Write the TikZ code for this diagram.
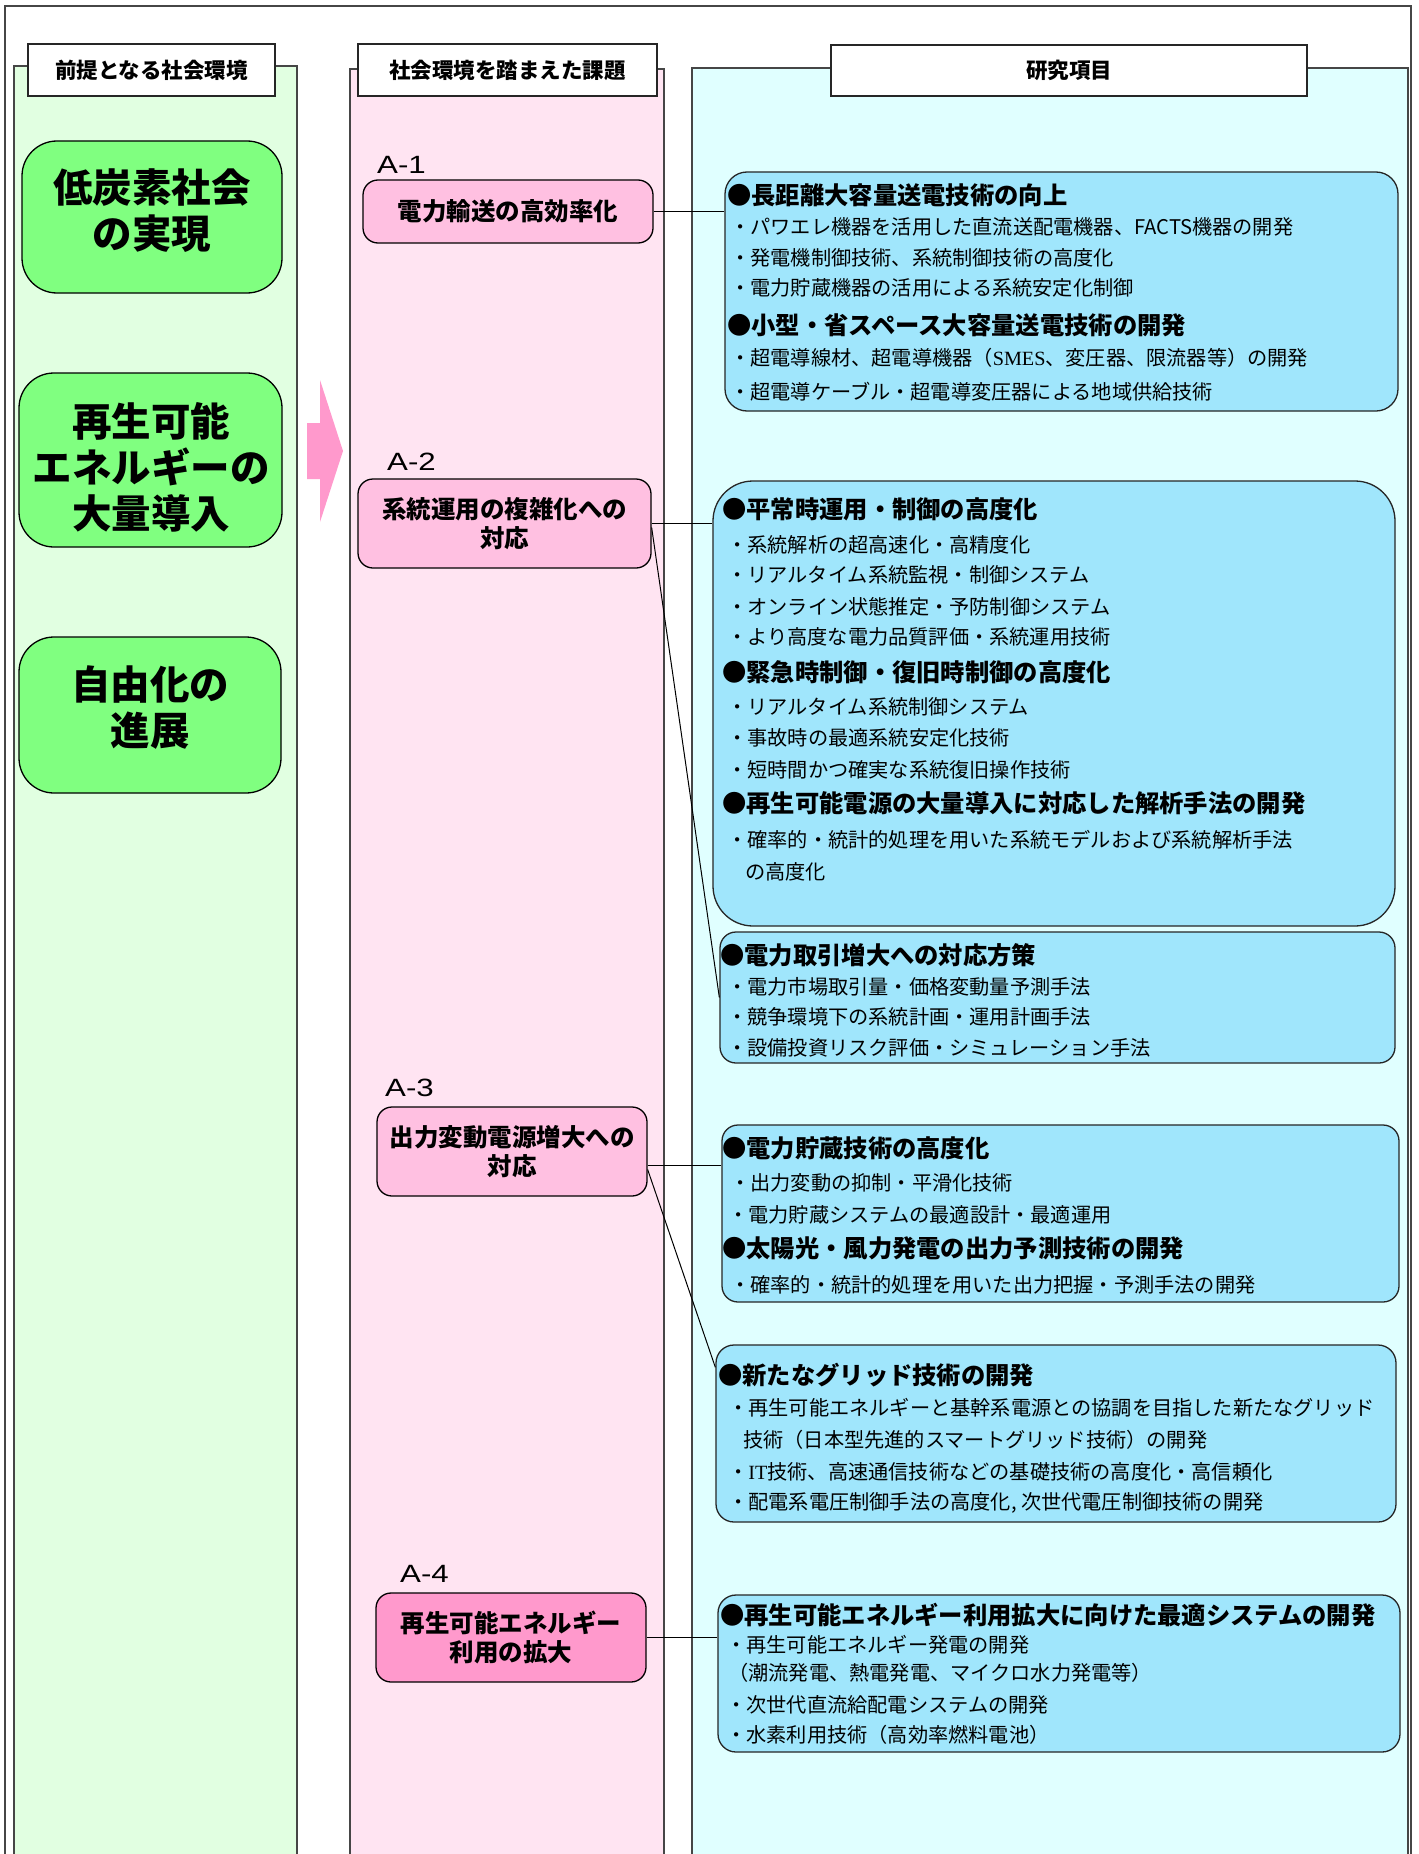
\documentclass[tikz,border=0pt]{standalone}
\usepackage{fontspec}
\setmainfont{Noto Sans CJK JP}
\newfontfamily\alab[FakeStretch=1.25]{Liberation Sans}
\newfontfamily\sertxt{Liberation Serif}
\usetikzlibrary{fit}
\definecolor{greenpanel}{RGB}{225,255,225}
\definecolor{greenbox}{RGB}{128,255,128}
\definecolor{pinkpanel}{RGB}{255,228,242}
\definecolor{pinkbox}{RGB}{255,192,225}
\definecolor{pinkbox4}{RGB}{255,153,204}
\definecolor{arrowpink}{RGB}{255,153,204}
\definecolor{bluepanel}{RGB}{224,255,255}
\definecolor{bluebox}{RGB}{160,230,252}
\definecolor{framegray}{RGB}{70,70,70}
\tikzset{
  frame/.style={draw=framegray, line width=1.5pt},
  panel/.style={draw=framegray, line width=1.5pt},
  hdr/.style={draw=black!85, fill=white, line width=1.3pt, inner sep=0pt,
    font=\bfseries\fontsize{21.5}{21.5}\selectfont},
  gbox/.style={draw=black, fill=greenbox, rounded corners=35pt, line width=1.3pt, inner sep=0pt},
  gtext/.style={inner sep=0pt, align=center, font=\bfseries\fontsize{39.5}{46}\selectfont},
  abox/.style={draw=black, fill=pinkbox, rounded corners=15pt, line width=1.3pt, inner sep=0pt,
    align=center, font=\bfseries\fontsize{24.5}{29}\selectfont},
  bbox/.style={draw=black!85, fill=bluebox, line width=1.3pt, inner sep=0pt},
  alabel/.style={anchor=west, inner sep=0pt, font=\alab\fontsize{25}{25}\selectfont},
  ttl/.style={anchor=west, inner sep=0pt, font=\bfseries\fontsize{24.3}{24.3}\selectfont},
  itm/.style={anchor=west, inner sep=0pt, font=\fontsize{20.2}{20.2}\selectfont},
  conn/.style={draw=black, line width=1pt},
}
\begin{document}
\begin{tikzpicture}[x=1pt,y=-1pt]
\useasboundingbox (0,0) rectangle (1418,1854);
\clip (0,0) rectangle (1418,1854);
\fill[white] (0,0) rectangle (1418,1854);
% outer frame
\draw[frame] (5,1870) -- (5,6) -- (1411,6) -- (1411,1870);
% panels
\filldraw[panel, fill=greenpanel] (14,1870) -- (14,66) -- (297,66) -- (297,1870);
\filldraw[panel, fill=pinkpanel] (350,1870) -- (350,69) -- (664,69) -- (664,1870);
\filldraw[panel, fill=bluepanel] (692,1870) -- (692,68) -- (1408,68) -- (1408,1870);
% headers
\node[hdr, minimum width=247pt, minimum height=52pt] (h1) at (151.5,70) {前提となる社会環境};
\node[hdr, minimum width=299pt, minimum height=52pt] (h2) at (507.5,70) {社会環境を踏まえた課題};
\node[hdr, minimum width=476pt, minimum height=51pt] (h3) at (1069,70.5) {研究項目};
% arrow
\fill[arrowpink] (307,423) -- (320,423) -- (320,380) -- (343,451) -- (320,522) -- (320,479) -- (307,479) -- cycle;
% green boxes
\node[gbox, minimum width=260pt, minimum height=152pt] (g1) at (152,217) {};
\node[gbox, minimum width=263pt, minimum height=174pt] (g2) at (150.5,460) {};
\node[gbox, minimum width=262pt, minimum height=156pt] (g3) at (150,715) {};
\node[gtext] (gt1) at (152,211) {低炭素社会\\の実現};
\node[gtext] (gt2) at (151,467) {再生可能\\エネルギーの\\大量導入};
\node[gtext] (gt3) at (150,708) {自由化の\\進展};
% A labels and boxes
\node[alabel] (la1) at (377,165) {A-1};
\node[alabel] (la2) at (387,462) {A-2};
\node[alabel] (la3) at (385,1088) {A-3};
\node[alabel] (la4) at (400,1574) {A-4};
\node[abox, minimum width=290pt, minimum height=63pt] (a1) at (508,211.5) {電力輸送の高効率化};
\node[abox, minimum width=293pt, minimum height=89pt] (a2) at (504.5,523.5) {系統運用の複雑化への\\対応};
\node[abox, minimum width=270pt, minimum height=89pt] (a3) at (512,1151.5) {出力変動電源増大への\\対応};
\node[abox, fill=pinkbox4, minimum width=270pt, minimum height=89pt] (a4) at (511,1637.5) {再生可能エネルギー\\利用の拡大};
% blue boxes
\node[bbox, rounded corners=22pt, fit={(725,172) (1398,411)}] (bx1) {};
\node[bbox, rounded corners=40pt, fit={(713,481) (1395,926)}] (bx2) {};
\node[bbox, rounded corners=16pt, fit={(720,932) (1395,1063)}] (bx3) {};
\node[bbox, rounded corners=16pt, fit={(722,1125) (1399,1302)}] (bx4) {};
\node[bbox, rounded corners=18pt, fit={(716,1345) (1396,1522)}] (bx5) {};
\node[bbox, rounded corners=18pt, fit={(718,1595) (1400,1752)}] (bx6) {};
% box 1 text
\node[ttl] (t11) at (727,195) {●長距離大容量送電技術の向上};
\node[itm] (i11) at (730,227) {・パワエレ機器を活用した直流送配電機器、FACTS機器の開発};
\node[itm] (i12) at (730,258) {・発電機制御技術、系統制御技術の高度化};
\node[itm] (i13) at (730,288) {・電力貯蔵機器の活用による系統安定化制御};
\node[ttl] (t12) at (727,325) {●小型・省スペース大容量送電技術の開発};
\node[itm] (i14) at (730,358) {・超電導線材、超電導機器（{\sertxt SMES}、変圧器、限流器等）の開発};
\node[itm] (i15) at (730,392) {・超電導ケーブル・超電導変圧器による地域供給技術};
% box 2 text
\node[ttl] (t21) at (722,509) {●平常時運用・制御の高度化};
\node[itm] (i21) at (727,545) {・系統解析の超高速化・高精度化};
\node[itm] (i22) at (727,575) {・リアルタイム系統監視・制御システム};
\node[itm] (i23) at (727,607) {・オンライン状態推定・予防制御システム};
\node[itm] (i24) at (727,637) {・より高度な電力品質評価・系統運用技術};
\node[ttl] (t22) at (722,672) {●緊急時制御・復旧時制御の高度化};
\node[itm] (i25) at (727,707) {・リアルタイム系統制御システム};
\node[itm] (i26) at (727,738) {・事故時の最適系統安定化技術};
\node[itm] (i27) at (727,770) {・短時間かつ確実な系統復旧操作技術};
\node[ttl] (t23) at (722,803) {●再生可能電源の大量導入に対応した解析手法の開発};
\node[itm] (i28) at (727,840) {・確率的・統計的処理を用いた系統モデルおよび系統解析手法};
\node[itm] (i29) at (745,872) {の高度化};
% box 3 text
\node[ttl] (t31) at (720,955) {●電力取引増大への対応方策};
\node[itm] (i31) at (727,987) {・電力市場取引量・価格変動量予測手法};
\node[itm] (i32) at (727,1017) {・競争環境下の系統計画・運用計画手法};
\node[itm] (i33) at (727,1048) {・設備投資リスク評価・シミュレーション手法};
% box 4 text
\node[ttl] (t41) at (722,1148) {●電力貯蔵技術の高度化};
\node[itm] (i41) at (730,1183) {・出力変動の抑制・平滑化技術};
\node[itm] (i42) at (728,1215) {・電力貯蔵システムの最適設計・最適運用};
\node[ttl] (t42) at (722,1248) {●太陽光・風力発電の出力予測技術の開発};
\node[itm] (i43) at (730,1285) {・確率的・統計的処理を用いた出力把握・予測手法の開発};
% box 5 text
\node[ttl] (t51) at (718,1375) {●新たなグリッド技術の開発};
\node[itm] (i51) at (728,1408) {・再生可能エネルギーと基幹系電源との協調を目指した新たなグリッド};
\node[itm] (i52) at (743,1440) {技術（日本型先進的スマートグリッド技術）の開発};
\node[itm] (i53) at (728,1472) {・{\sertxt IT}技術、高速通信技術などの基礎技術の高度化・高信頼化};
\node[itm] (i54) at (728,1503) {・配電系電圧制御手法の高度化, 次世代電圧制御技術の開発};
% box 6 text
\node[ttl] (t61) at (720,1615) {●再生可能エネルギー利用拡大に向けた最適システムの開発};
\node[itm] (i61) at (726,1645) {・再生可能エネルギー発電の開発};
\node[itm] (i62) at (728,1673) {（潮流発電、熱電発電、マイクロ水力発電等）};
\node[itm] (i63) at (726,1705) {・次世代直流給配電システムの開発};
\node[itm] (i64) at (726,1735) {・水素利用技術（高効率燃料電池）};
% connectors
\draw[conn] (a1.east) -- (a1.east -| bx1.west);
\draw[conn] (a2.east) -- (a2.east -| bx2.west);
\draw[conn] ([yshift=-4pt]a2.east) -- (bx3.west);
\draw[conn] ([yshift=-14pt]a3.east) -- ([yshift=-14pt]a3.east -| bx4.west);
\draw[conn] ([yshift=-18pt]a3.east) -- ([yshift=-23pt]bx5.north west);
\draw[conn] (a4.east) -- (a4.east -| bx6.west);
\end{tikzpicture}
\end{document}
